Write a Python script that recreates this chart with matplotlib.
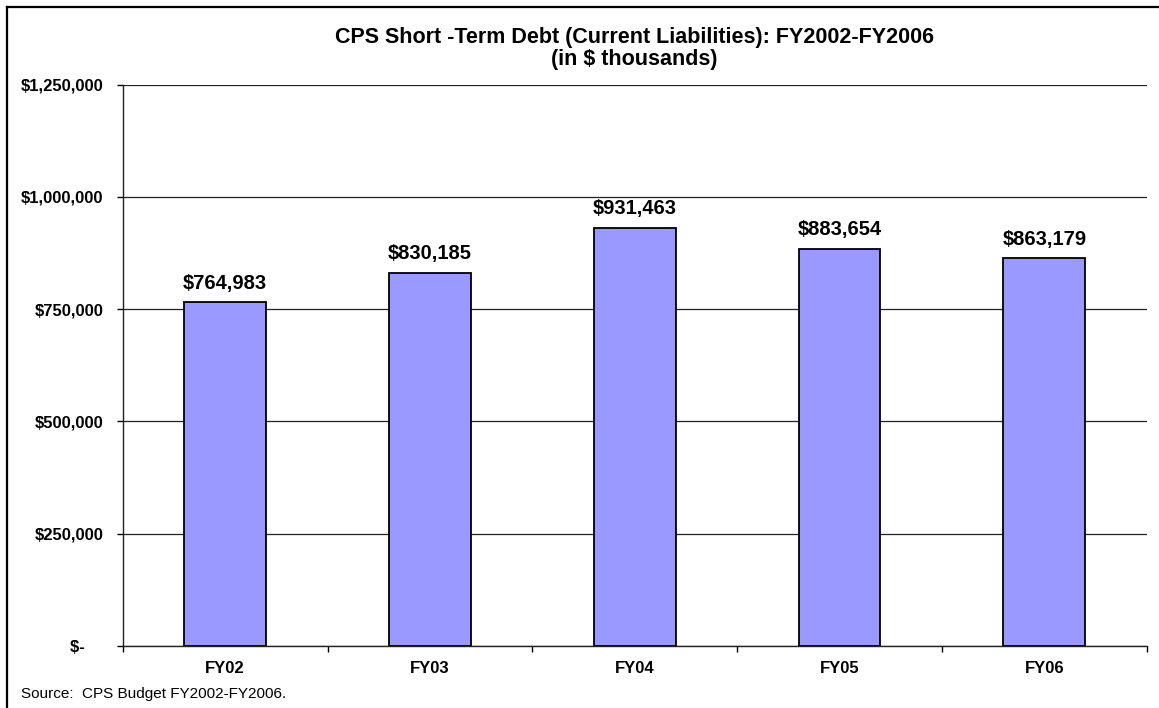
import matplotlib
matplotlib.use('Agg')
import matplotlib.pyplot as plt
from matplotlib.lines import Line2D
import numpy as np

plt.rcParams['font.family'] = ['Liberation Sans', 'DejaVu Sans']

##### DATA #####
years = ['FY02', 'FY03', 'FY04', 'FY05', 'FY06']
debt = [764983, 830185, 931463, 883654, 863179]
yticks = [0, 250000, 500000, 750000, 1000000, 1250000]
ylabels = ['$-    ', '$250,000', '$500,000', '$750,000', '$1,000,000', '$1,250,000']

title1 = 'CPS Short -Term Debt (Current Liabilities): FY2002-FY2006'
title2 = '(in $ thousands)'
source = 'Source:  CPS Budget FY2002-FY2006.'


###### PLOT ######
def plot():
	fig = plt.figure(figsize=(11.59, 7.08), dpi=100)
	ax = fig.add_axes([122.7/1159, 62/708, 1024/1159, 561.5/708])

	x = np.arange(len(years))
	ax.bar(x, debt, width=0.4, color='#9999FF', edgecolor='black', linewidth=1.3, zorder=3)
	for xi, v in zip(x, debt):
		ax.annotate('${:,}'.format(v), (xi, v), xytext=(0, 7), textcoords='offset points',
					ha='center', va='bottom', fontsize=14.5, fontweight='bold')

	ax.set_xlim(-0.5, len(years) - 0.5)
	ax.set_ylim(0, 1250000)
	ax.set_yticks(yticks)
	ax.set_yticklabels(ylabels, fontsize=12, fontweight='bold')
	ax.set_xticks(x)
	ax.set_xticklabels(years, fontsize=12, fontweight='bold')
	ax.set_xticks(np.arange(len(years) + 1) - 0.5, minor=True)
	ax.tick_params(axis='x', which='major', length=0, pad=10.5)
	ax.tick_params(axis='x', which='minor', length=4, width=1, direction='out')
	ax.tick_params(axis='y', length=4, width=1, direction='out', pad=10)
	ax.yaxis.grid(True, color='#222222', linewidth=0.9, zorder=0)
	for s in ['top', 'right']:
		ax.spines[s].set_visible(False)
	for s in ['left', 'bottom']:
		ax.spines[s].set_linewidth(1)
		ax.spines[s].set_color('#222222')

	fig.text(634.7/1159, 1 - 38/708, title1, ha='center', va='center', fontsize=15.5,
			 fontweight='bold')
	fig.text(634.7/1159, 1 - 59/708, title2, ha='center', va='center', fontsize=15.5,
			 fontweight='bold')
	fig.text(21/1159, 1 - 694/708, source, ha='left', va='center', fontsize=11)

	# chart border (left and top edges visible)
	fig.add_artist(Line2D([6.5/1159, 6.5/1159], [0, 1 - 6.5/708], color='black', lw=1.6))
	fig.add_artist(Line2D([6.5/1159, 1], [1 - 6.5/708, 1 - 6.5/708], color='black', lw=1.6))

	fig.savefig('out.png', dpi=100)
	plt.close()

plot()
